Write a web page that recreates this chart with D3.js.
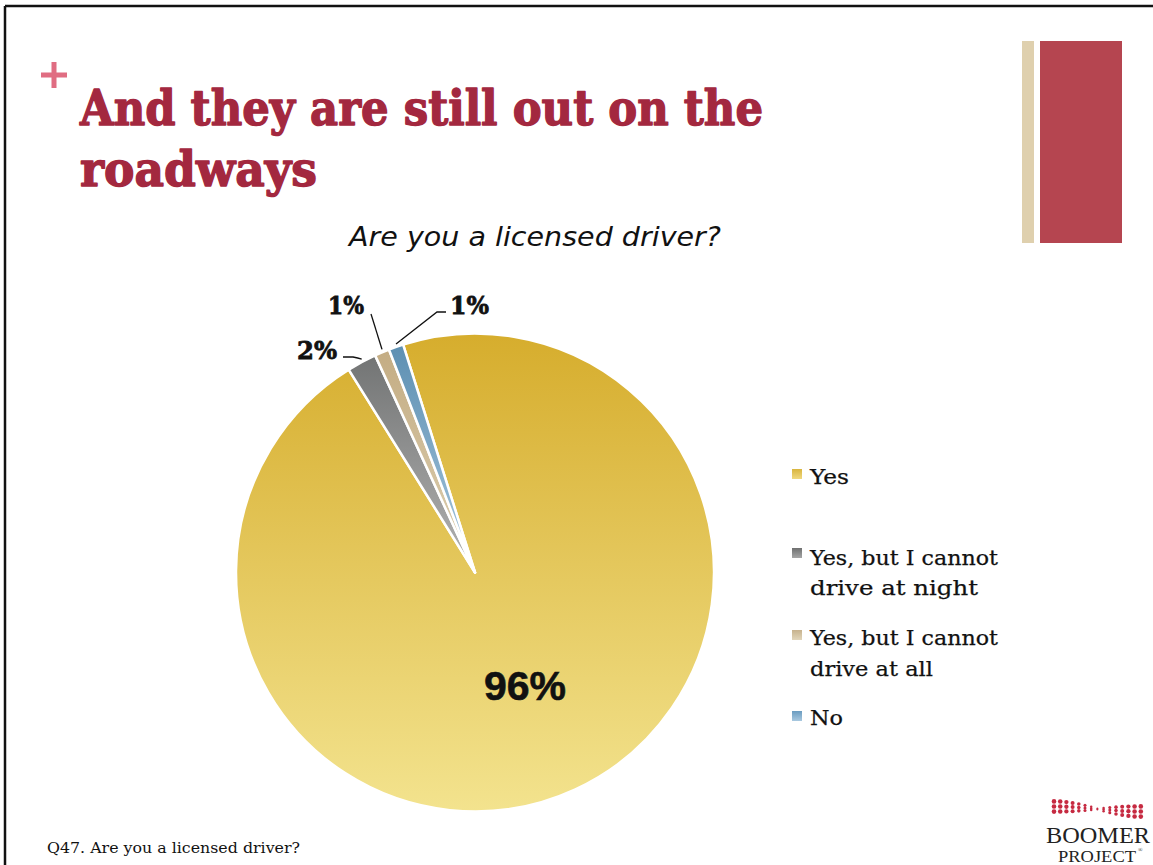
<!DOCTYPE html>
<html>
<head>
<meta charset="utf-8">
<script src="https://cdn.jsdelivr.net/npm/d3@7"></script>
<style>
  html, body { margin: 0; padding: 0; background: #fff; }
  svg { display: block; }
</style>
</head>
<body>
<svg id="chart" width="1153" height="865"></svg>
<script>
// ---- Data ----
const categories = ["Yes", "Yes, but I cannot drive at night", "Yes, but I cannot drive at all", "No"];
const values = [96, 2, 1, 1];
const valueLabels = ["96%", "2%", "1%", "1%"];
const legendLines = [["Yes"], ["Yes, but I cannot", "drive at night"], ["Yes, but I cannot", "drive at all"], ["No"]];
const titleLines = ["And they are still out on the", "roadways"];
const subtitle = "Are you a licensed driver?";
const footnote = "Q47. Are you a licensed driver?";

// ---- Styles ----
const gradStops = [
  ["#d6ad2d", "#f3e38e"],
  ["#6c6e6e", "#b3b3b3"],
  ["#c2aa80", "#ddd0b2"],
  ["#5a8db0", "#a7c7de"]
];
const legendColors = [["#d9b53e", "#f0d980"], ["#6f7070", "#a6a6a6"], ["#c7b28d", "#e2d6bb"], ["#6a9cc0", "#a9c9e0"]];

const svg = d3.select("#chart");
const defs = svg.append("defs");

// slide border (top & left)
svg.append("line").attr("x1", 5).attr("y1", 6).attr("x2", 1153).attr("y2", 6).attr("stroke", "#111").attr("stroke-width", 2.5);
svg.append("line").attr("x1", 5).attr("y1", 6).attr("x2", 5).attr("y2", 865).attr("stroke", "#111").attr("stroke-width", 2.5);

// plus sign
svg.append("rect").attr("x", 51.5).attr("y", 62).attr("width", 5).attr("height", 26).attr("fill", "#e06d82");
svg.append("rect").attr("x", 41).attr("y", 72.5).attr("width", 26).attr("height", 5).attr("fill", "#e06d82");

// right decorative bars
svg.append("rect").attr("x", 1022).attr("y", 41).attr("width", 12).attr("height", 202).attr("fill", "#dfd0ae");
svg.append("rect").attr("x", 1040).attr("y", 41).attr("width", 82).attr("height", 202).attr("fill", "#b54550");

// title
const titleSpec = [{y: 125, len: 683}, {y: 186, len: 237}];
titleLines.forEach((t, i) => {
  svg.append("text")
    .attr("x", 80).attr("y", titleSpec[i].y)
    .attr("font-family", "'DejaVu Serif', serif")
    .attr("font-weight", "bold")
    .attr("font-size", 48)
    .attr("fill", "#a3283f")
    .attr("stroke", "#a3283f")
    .attr("stroke-width", 1.4)
    .attr("stroke-linejoin", "round")
    .attr("textLength", titleSpec[i].len)
    .attr("lengthAdjust", "spacingAndGlyphs")
    .text(t);
});

// subtitle
svg.append("text")
  .attr("x", 349).attr("y", 246)
  .attr("font-family", "'DejaVu Sans', sans-serif")
  .attr("font-style", "italic")
  .attr("font-size", 27)
  .attr("fill", "#111")
  .attr("textLength", 372)
  .attr("lengthAdjust", "spacingAndGlyphs")
  .text(subtitle);

// ---- Pie ----
const cx = 475, cy = 572.5, r = 239;
const deg = Math.PI / 180;
const pie = d3.pie().sort(null).value(d => d)
  .startAngle(-17.5 * deg).endAngle(342.5 * deg);
const arcs = pie(values);
const arc = d3.arc().innerRadius(0).outerRadius(r);
const edgeArc = d3.arc().innerRadius(r).outerRadius(r);

arcs.forEach((a, i) => {
  const g = defs.append("linearGradient")
    .attr("id", "grad" + i)
    .attr("gradientUnits", "userSpaceOnUse")
    .attr("x1", 0).attr("y1", -r).attr("x2", 0).attr("y2", i === 0 ? r : 0);
  g.append("stop").attr("offset", "0%").attr("stop-color", gradStops[i][0]);
  g.append("stop").attr("offset", "100%").attr("stop-color", gradStops[i][1]);
});

const pieG = svg.append("g").attr("transform", `translate(${cx},${cy})`);
pieG.selectAll("path.slice").data(arcs).enter().append("path")
  .attr("class", "slice")
  .attr("d", arc)
  .attr("fill", (d, i) => `url(#grad${i})`)
  .attr("stroke", "#fff")
  .attr("stroke-width", 2.5)
  .attr("stroke-linejoin", "round");

// big label
svg.append("text")
  .attr("x", 525).attr("y", 700)
  .attr("text-anchor", "middle")
  .attr("font-family", "'Liberation Sans', Arial, sans-serif")
  .attr("font-weight", "bold")
  .attr("font-size", 41)
  .attr("fill", "#111")
  .attr("stroke", "#111")
  .attr("stroke-width", 0.6)
  .text(valueLabels[0]);

// small labels with leader lines
const smallLabels = [
  null,
  {x: 297, y: 359, len: 40, path: (e) => `M343,357 L353,357 Q358,358 ${e[0]},${e[1]}`},
  {x: 328, y: 314, len: 36, path: (e) => `M371,314 L${e[0]},${e[1]}`},
  {x: 450, y: 314, len: 39, path: (e) => `M446,312 L437,312 L${e[0]},${e[1]}`}
];
arcs.forEach((a, i) => {
  const s = smallLabels[i];
  if (!s) return;
  const c = edgeArc.centroid(a);
  const e = [c[0] + cx, c[1] + cy - 3];
  svg.append("path").attr("d", s.path(e)).attr("fill", "none").attr("stroke", "#111").attr("stroke-width", 1.3);
  svg.append("text")
    .attr("x", s.x).attr("y", s.y)
    .attr("font-family", "'DejaVu Serif', serif")
    .attr("font-weight", "bold")
    .attr("font-size", 25)
    .attr("fill", "#111")
    .attr("stroke", "#111")
    .attr("stroke-width", 0.8)
    .attr("textLength", s.len)
    .attr("lengthAdjust", "spacingAndGlyphs")
    .text(valueLabels[i]);
});

// ---- Legend ----
const legendY = [469, 548, 630, 711];
const legendBase = [[484], [565, 595], [645, 676], [725]];
const legendLen = [[39], [188, 168], [188, 123], [33]];
legendLines.forEach((lines, i) => {
  const g = defs.append("linearGradient").attr("id", "lg" + i).attr("x1", 0).attr("y1", 0).attr("x2", 0).attr("y2", 1);
  g.append("stop").attr("offset", "0%").attr("stop-color", legendColors[i][0]);
  g.append("stop").attr("offset", "100%").attr("stop-color", legendColors[i][1]);
  svg.append("rect").attr("x", 792).attr("y", legendY[i]).attr("width", 10).attr("height", 10).attr("fill", `url(#lg${i})`);
  lines.forEach((ln, j) => {
    svg.append("text")
      .attr("x", 810).attr("y", legendBase[i][j])
      .attr("font-family", "'DejaVu Serif', serif")
      .attr("font-size", 20.5)
      .attr("fill", "#111")
      .attr("stroke", "#111")
      .attr("stroke-width", 0.25)
      .attr("textLength", legendLen[i][j])
      .attr("lengthAdjust", "spacingAndGlyphs")
      .text(ln);
  });
});

// footnote
svg.append("text")
  .attr("x", 47).attr("y", 853)
  .attr("font-family", "'DejaVu Serif', serif")
  .attr("font-size", 14)
  .attr("fill", "#111")
  .attr("textLength", 253)
  .attr("lengthAdjust", "spacingAndGlyphs")
  .text(footnote);

// ---- Logo ----
const logo = svg.append("g");
const dotsN = 15;
const dotIdx = d3.range(dotsN);
[-1, 0, 1].forEach(row => {
  logo.selectAll(null).data(dotIdx).enter().append("circle")
    .attr("cx", d => 1054 + d * 6.2)
    .attr("cy", d => {
      const t = d / (dotsN - 1);
      return 809 - 2.5 * Math.cos(t * Math.PI) + row * 4.5 * Math.abs(Math.cos(t * Math.PI)) + row * 0.6;
    })
    .attr("r", d => {
      const t = d / (dotsN - 1);
      return 2.3 * (0.4 + 0.6 * Math.abs(Math.cos(t * Math.PI)));
    })
    .attr("fill", "#c62a41");
});
logo.append("text").attr("x", 1098).attr("y", 843).attr("text-anchor", "middle")
  .attr("font-family", "'Liberation Serif', serif").attr("font-size", 24).attr("fill", "#222")
  .attr("textLength", 104).attr("lengthAdjust", "spacingAndGlyphs").text("BOOMER");
logo.append("text").attr("x", 1097).attr("y", 862).attr("text-anchor", "middle")
  .attr("font-family", "'Liberation Serif', serif").attr("font-size", 17).attr("fill", "#222")
  .attr("textLength", 78).attr("lengthAdjust", "spacingAndGlyphs").text("PROJECT");
logo.append("text").attr("x", 1138).attr("y", 852)
  .attr("font-family", "'Liberation Serif', serif").attr("font-size", 6).attr("fill", "#222").text("®");
</script>
</body>
</html>
